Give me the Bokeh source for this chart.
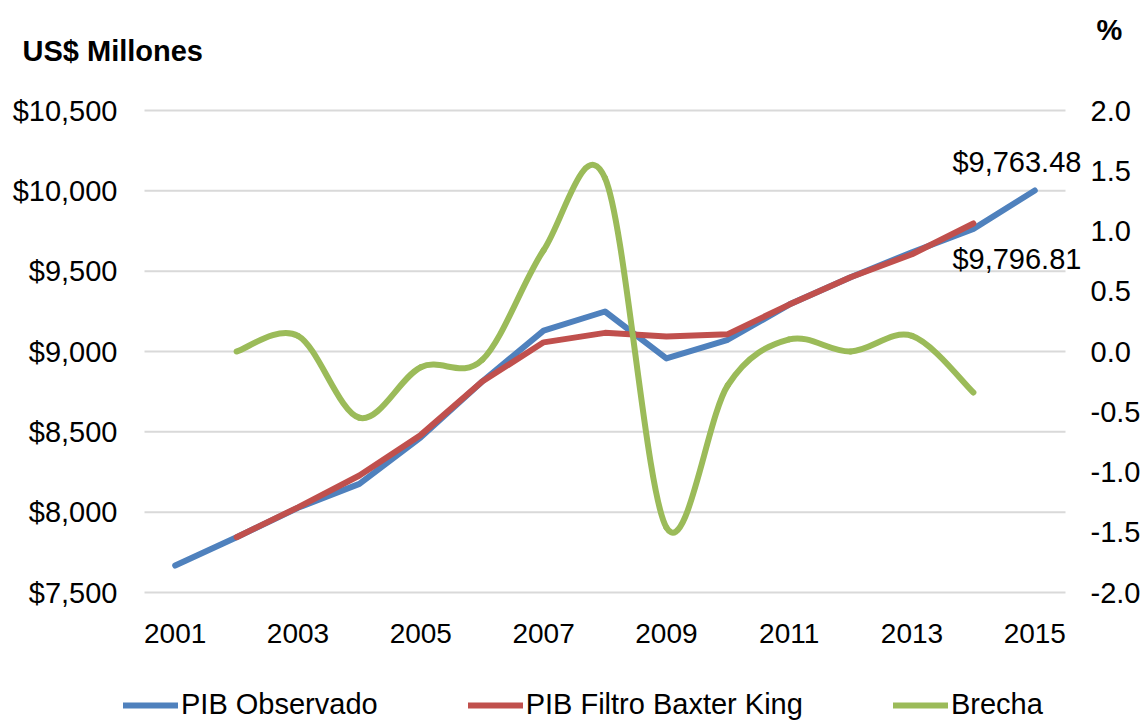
from bokeh.plotting import figure
from bokeh.models import (Range1d, LinearAxis, FixedTicker, NumeralTickFormatter,
                          PrintfTickFormatter, Legend, LegendItem, Label, ColumnDataSource)
from bokeh.embed import file_html
from bokeh.resources import INLINE

# ---- data ----
years = [2001, 2002, 2003, 2004, 2005, 2006, 2007, 2008, 2009, 2010, 2011, 2012, 2013, 2014, 2015]
pib_observado = [7668, 7844, 8027, 8176, 8466, 8813, 9130, 9249, 8957, 9073, 9292, 9462, 9618, 9763.48, 10002]
years_filtro = [2002, 2003, 2004, 2005, 2006, 2007, 2008, 2009, 2010, 2011, 2012, 2013, 2014]
pib_filtro = [7844, 8030, 8228, 8481, 8813, 9057, 9116, 9093, 9108, 9292, 9462, 9605, 9796.81]
brecha = [0.0, 0.13, -0.55, -0.13, -0.07, 0.84, 1.44, -1.46, -0.28, 0.10, 0.0, 0.13, -0.34]
x_ticks = [2001, 2003, 2005, 2007, 2009, 2011, 2013, 2015]
left_ticks = [7500, 8000, 8500, 9000, 9500, 10000, 10500]
right_ticks = [-2.0, -1.5, -1.0, -0.5, 0.0, 0.5, 1.0, 1.5, 2.0]

BLUE = "#4F81BD"
RED = "#C0504D"
GREEN = "#9BBB59"
FONT = "Liberation Sans"

# ---- layout (pixels of the plotting area inside the canvas) ----
W, H = 1145, 721
PL, PR, PT, PB = 144, 1065, 110, 592          # plotting area edges
X_LO, X_HI = 2000.5, 2015.5                   # category band edges
YL_LO, YL_HI = left_ticks[0], left_ticks[-1]
YR_LO, YR_HI = right_ticks[0], right_ticks[-1]

kx = (PR - PL) / (X_HI - X_LO)
kyl = (PB - PT) / (YL_HI - YL_LO)
kyr = (PB - PT) / (YR_HI - YR_LO)
x_range = Range1d(X_LO - PL / kx, X_HI + (W - PR) / kx)
y_range = Range1d(YL_LO - (H - PB) / kyl, YL_HI + PT / kyl)
yr_range = Range1d(YR_LO - (H - PB) / kyr, YR_HI + PT / kyr)

p = figure(width=W, height=H, output_backend="svg", toolbar_location=None,
           x_range=x_range, y_range=y_range, min_border=0, title=None)
p.extra_y_ranges = {"right": yr_range}
p.outline_line_color = None
p.background_fill_color = "white"
p.border_fill_color = "white"
p.xgrid.visible = False
p.ygrid.visible = False

def style_axis(ax, standoff, size):
    ax.axis_line_color = None
    ax.major_tick_line_color = None
    ax.minor_tick_line_color = None
    ax.major_tick_out = 0
    ax.major_tick_in = 0
    ax.minor_tick_out = 0
    ax.minor_tick_in = 0
    ax.major_label_text_font = FONT
    ax.major_label_text_font_size = size
    ax.major_label_text_color = "black"
    ax.major_label_standoff = standoff

p.yaxis.ticker = FixedTicker(ticks=left_ticks)
p.yaxis.formatter = NumeralTickFormatter(format="$0,0")
p.yaxis.fixed_location = X_LO
style_axis(p.yaxis[0], 27, "29px")

p.xaxis.ticker = FixedTicker(ticks=x_ticks)
p.xaxis.fixed_location = YL_LO
style_axis(p.xaxis[0], 31, "28px")

raxis = LinearAxis(y_range_name="right", ticker=FixedTicker(ticks=right_ticks),
                   formatter=PrintfTickFormatter(format="%.1f"), fixed_location=X_HI)
style_axis(raxis, 25, "29px")
p.add_layout(raxis, "right")

# ---- horizontal gridlines at the left-axis ticks ----
p.segment(x0=[X_LO] * len(left_ticks), x1=[X_HI] * len(left_ticks),
          y0=left_ticks, y1=left_ticks, line_color="#d9d9d9", line_width=2)

# ---- series ----
r_obs = p.line(years, pib_observado, line_color=BLUE, line_width=6,
               line_join="round", line_cap="round")
r_fil = p.line(years_filtro, pib_filtro, line_color=RED, line_width=6,
               line_join="round", line_cap="round")

# smoothed curve drawn as Bezier segments through the data points
n = len(brecha)
x0, y0, x1, y1, cx0, cy0, cx1, cy1 = [], [], [], [], [], [], [], []
for i in range(n - 1):
    xa, ya = years_filtro[i], brecha[i]
    xb, yb = years_filtro[i + 1], brecha[i + 1]
    xp, yp = (years_filtro[i - 1], brecha[i - 1]) if i > 0 else (xa, ya)
    xn, yn = (years_filtro[i + 2], brecha[i + 2]) if i + 2 < n else (xb, yb)
    x0.append(xa); y0.append(ya); x1.append(xb); y1.append(yb)
    cx0.append(xa + (xb - xp) / 6.0); cy0.append(ya + (yb - yp) / 6.0)
    cx1.append(xb - (xn - xa) / 6.0); cy1.append(yb - (yn - ya) / 6.0)
src = ColumnDataSource(dict(x0=x0, y0=y0, x1=x1, y1=y1, cx0=cx0, cy0=cy0, cx1=cx1, cy1=cy1))
r_bre = p.bezier(x0="x0", y0="y0", x1="x1", y1="y1", cx0="cx0", cy0="cy0", cx1="cx1", cy1="cy1",
                 source=src, line_color=GREEN, line_width=6, line_cap="round",
                 y_range_name="right")

# ---- data labels ----
p.add_layout(Label(x=years[-2], y=pib_observado[-2], text=f"${pib_observado[-2]:,.2f}",
                   x_offset=-21, y_offset=67, text_baseline="middle", text_align="left",
                   text_font=FONT, text_font_size="29px", text_color="black"))
p.add_layout(Label(x=years_filtro[-1], y=pib_filtro[-1], text=f"${pib_filtro[-1]:,.2f}",
                   x_offset=-21, y_offset=-36, text_baseline="middle", text_align="left",
                   text_font=FONT, text_font_size="29px", text_color="black"))

# ---- axis titles ----
p.add_layout(Label(x=22, y=H - 50, x_units="screen", y_units="screen", text="US$ Millones",
                   text_font=FONT, text_font_size="29px", text_font_style="bold",
                   text_baseline="middle", text_align="left", text_color="black"))
p.add_layout(Label(x=1096, y=H - 29, x_units="screen", y_units="screen", text="%",
                   text_font=FONT, text_font_size="29px", text_font_style="bold",
                   text_baseline="middle", text_align="left", text_color="black"))

# ---- legend ----
legend = Legend(items=[LegendItem(label="PIB Observado", renderers=[r_obs]),
                       LegendItem(label="PIB Filtro Baxter King", renderers=[r_fil]),
                       LegendItem(label="Brecha", renderers=[r_bre])],
                orientation="horizontal", location=(123, 0),
                glyph_width=55, glyph_height=30, label_height=30, label_standoff=3,
                spacing=90, padding=0, margin=0, border_line_color=None,
                background_fill_alpha=0,
                label_text_font=FONT, label_text_font_size="29px", label_text_color="black")
p.add_layout(legend, "center")

open("out.html", "w").write(file_html(p, INLINE))
